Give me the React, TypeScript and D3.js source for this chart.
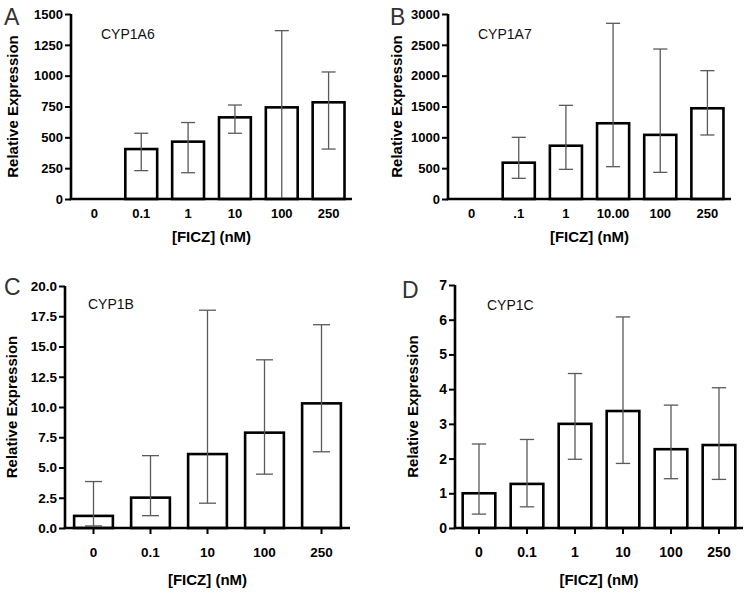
import { useEffect, useRef } from 'react'
import * as d3 from 'd3'

// CYP1A6
const catsA = ['0', '0.1', '1', '10', '100', '250']
const meanA = [0, 405, 465, 662, 743, 784]
const lowA = [0, 230, 213, 533, 0, 405]
const highA = [0, 533, 620, 762, 1365, 1030]

// CYP1A7
const catsB = ['0', '.1', '1', '10.00', '100', '250']
const meanB = [0, 589, 864, 1228, 1040, 1471]
const lowB = [0, 335, 481, 524, 432, 1038]
const highB = [0, 1000, 1519, 2849, 2432, 2081]

// CYP1B
const catsC = ['0', '0.1', '10', '100', '250']
const meanC = [1.0, 2.51, 6.11, 7.88, 10.3]
const lowC = [0.17, 1.02, 2.05, 4.45, 6.3]
const highC = [3.84, 5.98, 18.0, 13.9, 16.8]

// CYP1C
const catsD = ['0', '0.1', '1', '10', '100', '250']
const meanD = [1.0, 1.27, 3.0, 3.37, 2.27, 2.39]
const lowD = [0.4, 0.61, 1.98, 1.86, 1.42, 1.4]
const highD = [2.42, 2.55, 4.45, 6.08, 3.54, 4.04]

const ticksA = [0, 250, 500, 750, 1000, 1250, 1500]
const ticksB = [0, 500, 1000, 1500, 2000, 2500, 3000]
const ticksC = [0, 2.5, 5, 7.5, 10, 12.5, 15, 17.5, 20]
const ticksD = [0, 1, 2, 3, 4, 5, 6, 7]

const W = 750, H = 594
const FONT = '"Liberation Sans", Arial, sans-serif'

interface Panel {
  letter: string
  gene: string
  cats: string[]
  mean: number[]
  low: number[]
  high: number[]
  ticks: number[]
  fmt: (v: number) => string
  xTicks: boolean
  // layout
  x0: number; x1: number; yTop: number; yBase: number
  letterX: number; letterY: number
  geneX: number; geneY: number
  yTitleX: number; xLabY: number; xTitleY: number
  tickFont: number
}

const panels: Panel[] = [
  {
    letter: 'A', gene: 'CYP1A6', cats: catsA, mean: meanA, low: lowA, high: highA,
    ticks: ticksA, fmt: d3.format('d'), xTicks: false,
    x0: 71, x1: 352, yTop: 14, yBase: 199,
    letterX: 4, letterY: 25, geneX: 101, geneY: 38.5,
    yTitleX: 18, xLabY: 218, xTitleY: 242, tickFont: 13,
  },
  {
    letter: 'B', gene: 'CYP1A7', cats: catsB, mean: meanB, low: lowB, high: highB,
    ticks: ticksB, fmt: d3.format('d'), xTicks: false,
    x0: 448, x1: 731, yTop: 14, yBase: 199,
    letterX: 390, letterY: 25, geneX: 478, geneY: 38.5,
    yTitleX: 402, xLabY: 218, xTitleY: 242, tickFont: 13,
  },
  {
    letter: 'C', gene: 'CYP1B', cats: catsC, mean: meanC, low: lowC, high: highC,
    ticks: ticksC, fmt: d3.format('.1f'), xTicks: true,
    x0: 65, x1: 350, yTop: 286, yBase: 528,
    letterX: 4, letterY: 295, geneX: 88, geneY: 309,
    yTitleX: 17, xLabY: 557, xTitleY: 585, tickFont: 13.5,
  },
  {
    letter: 'D', gene: 'CYP1C', cats: catsD, mean: meanD, low: lowD, high: highD,
    ticks: ticksD, fmt: d3.format('d'), xTicks: true,
    x0: 455, x1: 743, yTop: 285, yBase: 528,
    letterX: 402, letterY: 298, geneX: 487, geneY: 310,
    yTitleX: 418, xLabY: 557, xTitleY: 585, tickFont: 14,
  },
]

export default function App() {
  const svgRef = useRef<SVGSVGElement>(null)

  useEffect(() => {
    const svg = d3.select(svgRef.current)
    svg.selectAll('*').remove()
    svg.attr('viewBox', `0 0 ${W} ${H}`)

    svg.append('rect').attr('width', W).attr('height', H).attr('fill', '#fff')

    panels.forEach((p) => {
      const g = svg.append('g')
      const yMax = p.ticks[p.ticks.length - 1]
      const x = d3.scaleBand<string>()
        .domain(p.cats)
        .range([p.x0, p.x1])
        .paddingInner(0.32)
        .paddingOuter(0.16)
      const y = d3.scaleLinear().domain([0, yMax]).range([p.yBase, p.yTop])

      const bw = x.bandwidth()
      const cap = bw * 0.22

      // bars
      g.selectAll('rect.bar')
        .data(p.cats)
        .join('rect')
        .attr('class', 'bar')
        .attr('x', (c) => x(c)!)
        .attr('width', bw)
        .attr('y', (_, i) => y(p.mean[i]))
        .attr('height', (_, i) => y(0) - y(p.mean[i]))
        .attr('fill', '#fff')
        .attr('stroke', p.mean.some((v) => v === 0) ? '#000' : '#000')
        .attr('stroke-width', 2.6)
        .attr('display', (_, i) => (p.mean[i] === 0 ? 'none' : null))

      // error bars
      const eb = g.selectAll('g.err')
        .data(p.cats.filter((_, i) => p.high[i] > p.low[i]))
        .join('g')
        .attr('class', 'err')
        .attr('stroke', '#5a5a5a')
        .attr('stroke-width', 1.3)
      eb.each(function (c) {
        const i = p.cats.indexOf(c)
        const cx = x(c)! + bw / 2
        const s = d3.select(this)
        s.append('line').attr('x1', cx).attr('x2', cx).attr('y1', y(p.low[i])).attr('y2', y(p.high[i]))
        s.append('line').attr('x1', cx - cap).attr('x2', cx + cap).attr('y1', y(p.high[i])).attr('y2', y(p.high[i]))
        if (p.low[i] > 0) {
          s.append('line').attr('x1', cx - cap).attr('x2', cx + cap).attr('y1', y(p.low[i])).attr('y2', y(p.low[i]))
        }
      })

      // y axis
      const ya = g.append('g')
        .attr('transform', `translate(${p.x0},0)`)
        .call(d3.axisLeft(y).tickValues(p.ticks).tickFormat((v) => p.fmt(v as number)).tickSize(6).tickPadding(2))
      ya.select('.domain').attr('stroke', '#000').attr('stroke-width', 2.6)
        .attr('d', `M0,${p.yTop}V${p.yBase}`)
      ya.selectAll('.tick line').attr('stroke', '#000').attr('stroke-width', 2)
      ya.selectAll('.tick text')
        .attr('font-family', FONT).attr('font-weight', 'bold')
        .attr('font-size', p.tickFont).attr('fill', '#000')

      // x axis
      const xa = g.append('g')
        .attr('transform', `translate(0,${p.yBase})`)
        .call(d3.axisBottom(x).tickSize(p.xTicks ? 6 : 0).tickSizeOuter(0))
      xa.select('.domain').attr('stroke', '#000').attr('stroke-width', 2.6)
        .attr('d', `M${p.x0 - 1.3},0H${p.x1}`)
      xa.selectAll('.tick line').attr('stroke', '#000').attr('stroke-width', 2)
      xa.selectAll('.tick text')
        .attr('y', p.xLabY - p.yBase).attr('dy', null)
        .attr('font-family', FONT).attr('font-weight', 'bold')
        .attr('font-size', p.tickFont).attr('fill', '#000')

      // titles
      g.append('text')
        .attr('transform', `translate(${p.yTitleX},${(p.yTop + p.yBase) / 2}) rotate(-90)`)
        .attr('text-anchor', 'middle')
        .attr('font-family', FONT).attr('font-weight', 'bold').attr('font-size', 15)
        .text('Relative Expression')

      g.append('text')
        .attr('x', (p.x0 + p.x1) / 2).attr('y', p.xTitleY)
        .attr('text-anchor', 'middle')
        .attr('font-family', FONT).attr('font-weight', 'bold').attr('font-size', 15)
        .text('[FICZ] (nM)')

      g.append('text')
        .attr('x', p.geneX).attr('y', p.geneY)
        .attr('font-family', FONT).attr('font-size', 14).attr('fill', '#111')
        .text(p.gene)

      g.append('text')
        .attr('x', p.letterX).attr('y', p.letterY)
        .attr('font-family', FONT).attr('font-size', 23).attr('fill', '#333')
        .attr('font-weight', 300)
        .text(p.letter)
    })
  }, [])

  return (
    <svg
      ref={svgRef}
      width={W}
      height={H}
      style={{ position: 'absolute', left: 0, top: 0, display: 'block' }}
    />
  )
}
